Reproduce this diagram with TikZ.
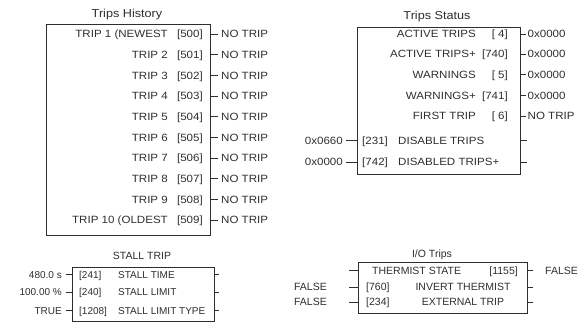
\documentclass[tikz,border=0pt]{standalone}
\usepackage{fontspec}
\setmainfont{Liberation Sans}
\newfontfamily\wideface[FakeStretch=1.1]{Liberation Sans}
\usetikzlibrary{positioning}
\definecolor{ink}{HTML}{2E2E2E}

\begin{document}
\begin{tikzpicture}[
    x=1pt, y=-1pt,
    block/.style={rectangle, draw=ink, line width=1.2pt, inner sep=0pt, anchor=north west},
    toptext/.style={inner sep=0pt, text=ink, text height=7.5pt, text depth=0pt,
                    font=\wideface\fontsize{10.5}{12}\selectfont},
    lowtext/.style={inner sep=0pt, text=ink, text height=7.2pt, text depth=0pt,
                    font=\fontsize{10}{12}\selectfont},
    iotext/.style={lowtext, font=\fontsize{10.5}{12}\selectfont, text height=7.5pt},
    toptitle/.style={toptext, font=\wideface\fontsize{11.5}{13}\selectfont, text height=8.2pt},
    lowtitle/.style={lowtext, font=\fontsize{10.5}{12}\selectfont, text height=7.5pt},
    outval/.style={anchor=west, inner xsep=3.5pt},
    inval/.style={anchor=east, inner xsep=3.5pt},
    tick/.style={draw=ink, line width=0.9pt},
]
\useasboundingbox (0,0) rectangle (581,325);

% Trips History
\node[toptitle] (histtitle) at (127,13.5) {Trips History};
\node[block, minimum width=164pt, minimum height=211pt] (hist) at (46,24) {};
\foreach \name/\num [count=\k from 0] in {TRIP 1 (NEWEST/500, TRIP 2/501, TRIP 3/502,
    TRIP 4/503, TRIP 5/504, TRIP 6/505, TRIP 7/506, TRIP 8/507, TRIP 9/508, TRIP 10 (OLDEST/509}{
  \pgfmathsetmacro\yy{34+20.67*\k}
  \node[toptext, anchor=east] (hname\k) at (168,\yy) {\name};
  \node[toptext, anchor=east] (hpar\k) at (203,\yy) {[\num]};
  \node[toptext, outval] (hval\k) at (217.5,\yy) {NO TRIP};
  \draw[tick] (hist.east |- hval\k.west) -- (hval\k.west);
}

% Trips Status
\node[toptitle] (stattitle) at (437,15) {Trips Status};
\node[block, minimum width=163pt, minimum height=147pt] (stat) at (357,27) {};
\foreach \name/\num/\val/\yy [count=\k] in {ACTIVE TRIPS/~4/0x0000/34, ACTIVE TRIPS+/740/0x0000/54,
    WARNINGS/~5/0x0000/74.5, WARNINGS+/741/0x0000/95.5, FIRST TRIP/~6/NO TRIP/116}{
  \node[toptext, anchor=east] (sname\k) at (476,\yy) {\name};
  \node[toptext, anchor=east] (spar\k) at (508,\yy) {[\num]};
  \node[toptext, outval, inner xsep=1.5pt] (sval\k) at (526,\yy) {\val};
  \draw[tick] (stat.east |- sval\k.west) -- (sval\k.west);
}
\foreach \val/\num/\name/\yy [count=\k] in {0x0660/231/DISABLE TRIPS/140.5,
    0x0000/742/DISABLED TRIPS+/162}{
  \node[toptext, inval, inner xsep=3pt] (sin\k) at (346,\yy) {\val};
  \node[toptext, anchor=west] (sinpar\k) at (362,\yy) {[\num]};
  \node[toptext, anchor=west] (sinname\k) at (398,\yy) {\name};
  \coordinate (sout\k) at (527,\yy);
  \draw[tick] (sin\k.east) -- (stat.west |- sin\k.east);
  \draw[tick] (stat.east |- sout\k) -- (sout\k);
}

% Stall trip
\node[lowtitle] (stalltitle) at (142,255.5) {STALL TRIP};
\node[block, minimum width=142pt, minimum height=54pt] (stall) at (72,267) {};
\foreach \val/\num/\name/\yy [count=\k] in {480.0 s/241/STALL TIME/274.5,
    100.00 \%/240/STALL LIMIT/292.2, TRUE/1208/STALL LIMIT TYPE/310.8}{
  \node[lowtext, inval] (stin\k) at (65.5,\yy) {\val};
  \node[lowtext, anchor=west] (stpar\k) at (79,\yy) {[\num]};
  \node[lowtext, anchor=west] (stname\k) at (118,\yy) {\name};
  \coordinate (stout\k) at (219,\yy);
  \draw[tick] (stin\k.east) -- (stall.west |- stin\k.east);
  \draw[tick] (stall.east |- stout\k) -- (stout\k);
}

% I/O trips
\node[lowtitle] (iotitle) at (432,253.7) {I/O Trips};
\node[block, minimum width=169pt, minimum height=51pt] (io) at (358,262) {};
\node[iotext, anchor=west] (thname) at (372,270.8) {THERMIST STATE};
\node[iotext, anchor=east] (thpar) at (518,270.8) {[1155]};
\node[iotext, anchor=west] (thval) at (545,270.8) {FALSE};
\node[iotext, anchor=west] (invpar) at (366,287) {[760]};
\node[iotext] (invname) at (463,287) {INVERT THERMIST};
\node[iotext, anchor=east] (invval) at (327,287) {FALSE};
\node[iotext, anchor=west] (extpar) at (366,302) {[234]};
\node[iotext] (extname) at (463,302) {EXTERNAL TRIP};
\node[iotext, anchor=east] (extval) at (327,302) {FALSE};
\foreach \row/\yy in {th/270.8, inv/287, ext/302}{
  \coordinate (\row in) at (349,\yy);
  \coordinate (\row out) at (533,\yy);
  \draw[tick] (\row in) -- (io.west |- \row in);
  \draw[tick] (io.east |- \row out) -- (\row out);
}

\end{tikzpicture}
\end{document}
